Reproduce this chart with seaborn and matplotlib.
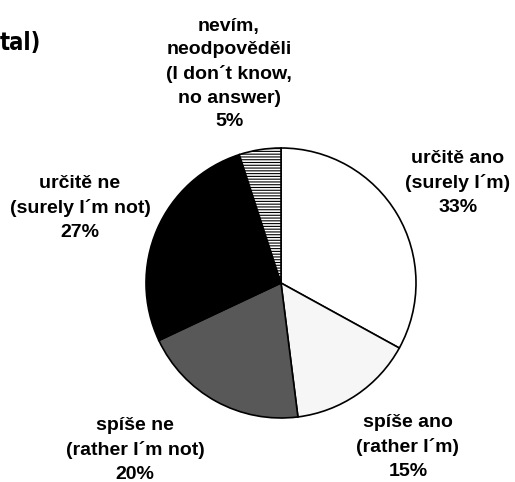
import matplotlib
matplotlib.use("Agg")
import matplotlib.pyplot as plt
import seaborn as sns

# ---- data ----
categories = ["určitě ano\n(surely I´m)", "spíše ano\n(rather I´m)",
              "spíše ne\n(rather I´m not)", "určitě ne\n(surely I´m not)",
              "nevím,\nneodpověděli\n(I don´t know,\nno answer)"]
values = [33, 15, 20, 27, 5]
title_text = "tal)"

sns.set_theme(style="white")
plt.rcParams['font.family'] = ['Liberation Sans', 'DejaVu Sans']
plt.rcParams['hatch.linewidth'] = 0.8

W, H = 515, 482
fig = plt.figure(figsize=(W / 100, H / 100), dpi=100)
ax = fig.add_axes([0, 0, 1, 1])
ax.axis('off')

faces = ["white", "#f6f6f6", "#585858", "black", "white"]
hatches = [None, None, None, None, "------"]

wedges, _ = ax.pie(values, startangle=90, counterclock=False,
                   center=(281, H - 283), radius=135, colors=faces,
                   wedgeprops=dict(edgecolor="black", linewidth=1.2))
for w, h in zip(wedges, hatches):
    if h:
        w.set_hatch(h)
        w.set_edgecolor("black")

ax.set_xlim(0, W)
ax.set_ylim(0, H)
ax.set_aspect('equal')

# label positions (pixel, top-origin) — centre of each label block
label_pos = [(458, 183), (408, 447), (135, 450), (80, 208), (229, 74)]
for cat, val, (x, y) in zip(categories, values, label_pos):
    ax.text(x, H - y, f"{cat}\n{val}%", ha="center", va="center",
            fontsize=14, fontweight="bold", linespacing=1.5,
            color="black")

ax.text(0, H - 43, title_text, ha="left", va="center", fontsize=17,
        family="DejaVu Sans", fontstretch="condensed",
        fontweight="heavy", color="black")

fig.savefig("out.png", dpi=100)
